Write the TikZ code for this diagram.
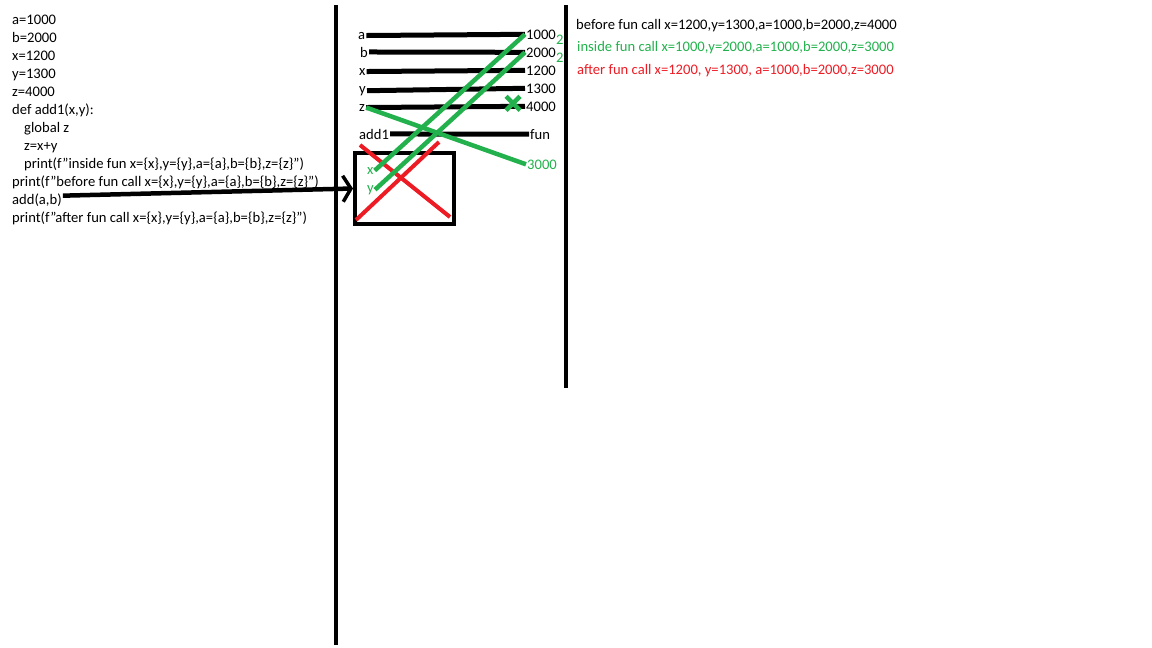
\documentclass[tikz,border=0pt]{standalone}
\usepackage{fontspec}
\setmainfont{Carlito}
\usetikzlibrary{arrows.meta, calc, positioning}
\definecolor{paintgreen}{HTML}{22B14C}
\definecolor{paintred}{HTML}{ED1C24}

\begin{document}
\begin{tikzpicture}[x=1pt, y=-1pt, font=\fontsize{14.6}{18}\selectfont]
\tikzset{code/.style={anchor=base west, inner sep=0pt},
  var/.style={anchor=base west, inner sep=1pt},
  slot/.style={line width=5pt},
  chalk/.style={line width=4.5pt, paintgreen},
  cross/.style={line width=4pt, paintred}}
  \useasboundingbox (0,0) rectangle (1152,648);

  % program listing
  \foreach \t [count=\c] in {a=1000,b=2000,x=1200,y=1300,z=4000,def add1(x{,}y):} {
    \node [code] (L\c) at (12,{24+18*(\c-1)}) {\t};
  }
  \node [code] (L7) at (24,132) {global z};
  \node [code] (L8) at (24,150) {z=x+y};
  \node [code] (L9) at (24,168) {print(f"inside fun x=\{x\},y=\{y\},a=\{a\},b=\{b\},z=\{z\}")};
  \node [code] (L10) at (12,186) {print(f"before fun call x=\{x\},y=\{y\},a=\{a\},b=\{b\},z=\{z\}")};
  \node [code] (call) at (12,204) {add(a,b)};
  \node [code] (L12) at (12,222) {print(f"after fun call x=\{x\},y=\{y\},a=\{a\},b=\{b\},z=\{z\}")};

  % dividers
  \coordinate (d1t) at (336,5);
  \coordinate (d1b) at (336,645);
  \coordinate (d2t) at (566,5);
  \coordinate (d2b) at (566,388);
  \draw [line width=4pt] (d1t) -- (d1b);
  \draw [line width=4pt] (d2t) -- (d2b);

  % global frame
  \foreach \n/\x/\y/\v in {a/357/39/1000, b/359/57/2000, x/358/75/1200, y/358/93/1300, z/358/111/4000} {
    \node [var] (n\n) at (\x,\y) {\n};
    \node [var] (v\n) at (525,\y) {\v};
    \draw [slot] (n\n.east) -- (v\n.west);
  }
  \node [var] (nf) at (358,139) {add1};
  \node [var] (vf) at (529,139) {fun};
  \draw [slot] (nf.east) -- (vf.west);
  \node [var, text=paintgreen] (v3000) at (526,169) {3000};
  \node [var, text=paintgreen] (ta) at (555,44) {2};
  \node [var, text=paintgreen] (tb) at (555,62) {2};

  % function frame
  \node [draw, line width=4pt, minimum width=99pt, minimum height=71pt, inner sep=0pt] (box) at (404.5,188.5) {};
  \node [var, text=paintgreen] (px) at (366,174) {x};
  \node [var, text=paintgreen] (py) at (366,192) {y};
  \draw [cross] ($(box.north west)+(7,-6)$) -- ($(box.south east)+(-6,-9)$);
  \draw [cross] ($(box.north east)+(-17,-9)$) -- ($(box.south west)+(3,-6)$);

  % green edits
  \draw [chalk] (px.east) -- (va.west);
  \draw [chalk] (py.east) -- (vb.west);
  \draw [chalk] (nz.east) -- (v3000.west);
  \coordinate (zx) at ($(vz.west)+(-12,-3)$);
  \draw [chalk] ($(zx)+(-7,-7)$) -- ($(zx)+(7,7)$);
  \draw [chalk] ($(zx)+(-7,7)$) -- ($(zx)+(7,-7)$);

  % call arrow
  \draw [line width=4.5pt, -{Straight Barb[length=8pt, width=26pt, line width=3.5pt]}] ($(call.east)+(1,-4)$) -- (box.west);

  % output
  \node [code] (o1) at (576,29) {before fun call x=1200,y=1300,a=1000,b=2000,z=4000};
  \node [code, text=paintgreen] (o2) at (577,51) {inside fun call x=1000,y=2000,a=1000,b=2000,z=3000};
  \node [code, text=paintred] (o3) at (577,74) {after fun call x=1200, y=1300, a=1000,b=2000,z=3000};
\end{tikzpicture}
\end{document}
